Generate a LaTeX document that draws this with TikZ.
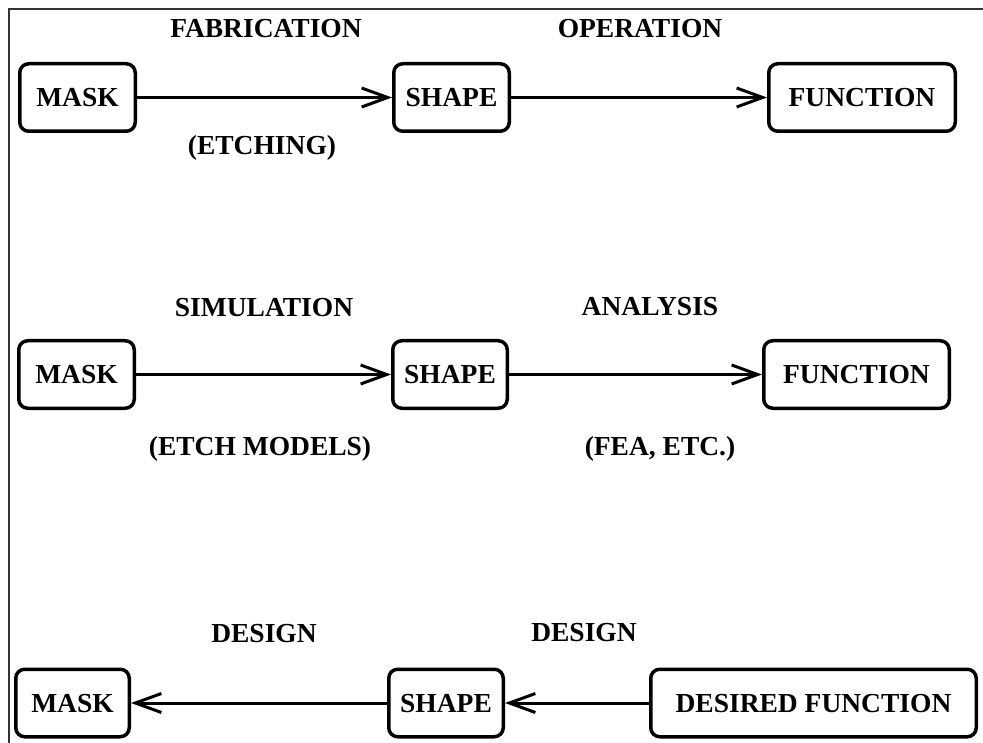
\documentclass[tikz,border=0pt]{standalone}
\usepackage{fontspec}
\setmainfont{Liberation Serif}
\usetikzlibrary{arrows.meta}
\begin{document}
\begin{tikzpicture}[x=1pt, y=-1pt,
  every node/.style={font=\fontsize{27.5}{30}\selectfont\bfseries,
    text height=18.2pt, text depth=0pt, inner sep=0pt},
  blk/.style={draw, line width=3.5pt, rounded corners=9pt, minimum height=67.5pt},
  flow/.style={line width=3pt, -{Straight Barb[length=26pt, width=19pt]}},
  frameline/.style={line width=1.2pt, draw=black!80}]
\useasboundingbox (0,0) rectangle (983,743);

% partial frame along the top and left
\draw[frameline] (9,743) -- (9,9) -- (983,9);

% row 1: fabrication and operation
\node[blk, minimum width=115.5pt] (mask1)  at (77.5,97.5)  {MASK};
\node[blk, minimum width=115.5pt] (shape1) at (451.5,97.5) {SHAPE};
\node[blk, minimum width=186.5pt] (func1)  at (862,97.5)   {FUNCTION};
\draw[flow] (mask1) -- (shape1);
\draw[flow] (shape1) -- (func1);
\node (fab)  at (266,28)  {FABRICATION};
\node (oper) at (640,28)  {OPERATION};
\node (etch) at (262,145) {(ETCHING)};

% row 2: simulation and analysis
\node[blk, minimum width=115.5pt] (mask2)  at (76.5,374.5) {MASK};
\node[blk, minimum width=114.5pt] (shape2) at (450,374.5)  {SHAPE};
\node[blk, minimum width=185.5pt] (func2)  at (856.5,374.5) {FUNCTION};
\draw[flow] (mask2) -- (shape2);
\draw[flow] (shape2) -- (func2);
\node (sim)     at (264,307) {SIMULATION};
\node (anal)    at (650,306) {ANALYSIS};
\node (etchmod) at (260,446) {(ETCH MODELS)};
\node (fea)     at (660,446) {(FEA, ETC.)};

% row 3: design runs backwards
\node[blk, minimum width=113.5pt] (mask3)  at (72.5,703)  {MASK};
\node[blk, minimum width=114.5pt] (shape3) at (446,703)   {SHAPE};
\node[blk, minimum width=325.5pt] (want)   at (813.5,703) {DESIRED FUNCTION};
\draw[flow] (want) -- (shape3);
\draw[flow] (shape3) -- (mask3);
\node (des1) at (264,633) {DESIGN};
\node (des2) at (584,632) {DESIGN};
\end{tikzpicture}
\end{document}
